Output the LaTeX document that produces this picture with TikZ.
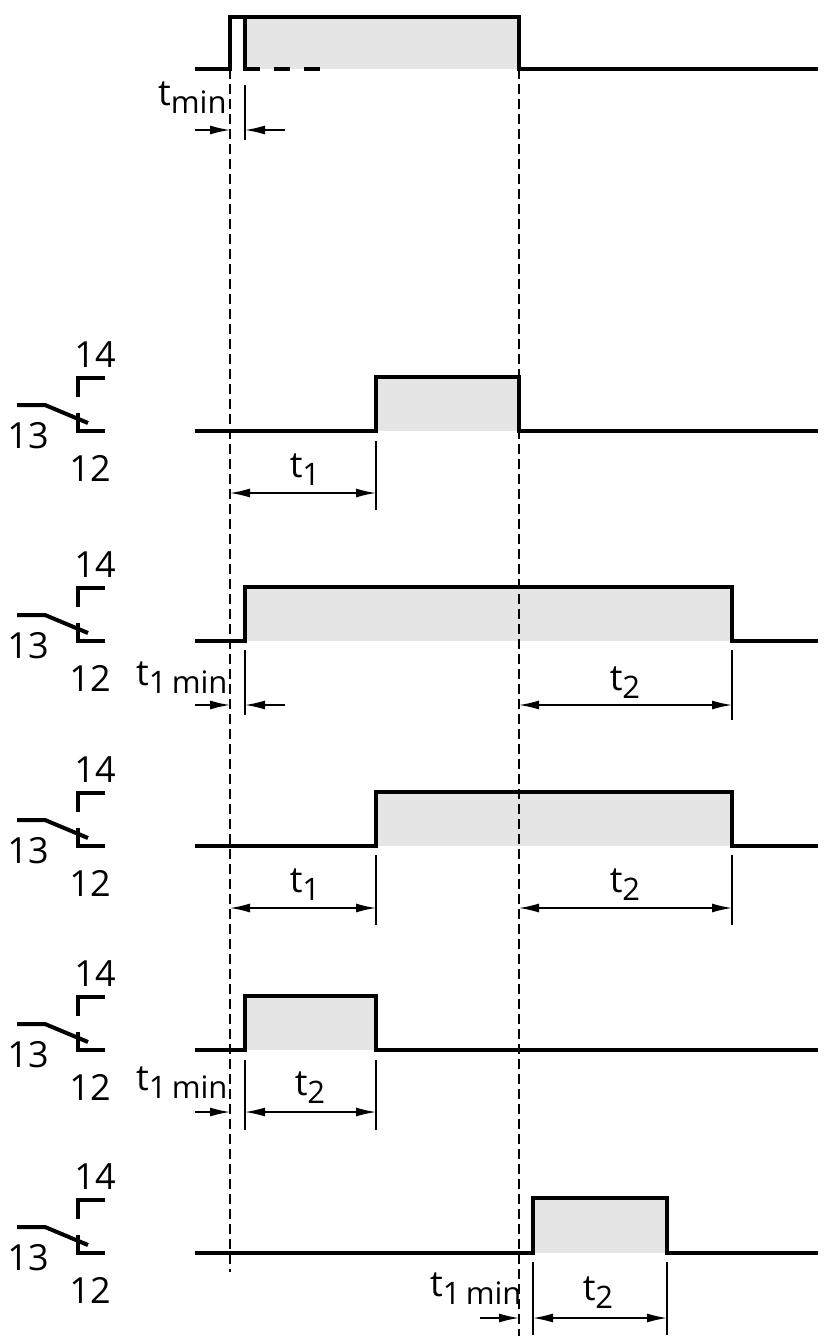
\documentclass[tikz,border=0pt]{standalone}
\usepackage{fontspec}
\setmainfont{Open Sans}
\usetikzlibrary{arrows.meta}
\tikzset{sig/.style={line width=4.5pt,line join=miter},
 fillg/.style={fill=black!10},
 vdash/.style={line width=1.3pt,dash pattern=on 10pt off 5pt},
 tick/.style={line width=1.5pt},
 dim/.style={line width=1.5pt,{Latex[length=20pt,width=9pt]}-{Latex[length=20pt,width=9pt]}},
 one/.style={line width=1.5pt,-{Latex[length=20pt,width=9pt]}},
 lbl/.style={font=\fontsize{36}{36}\selectfont,inner sep=0pt}}
\newcommand{\tsub}[1]{t\raisebox{-8pt}{\fontsize{31}{31}\selectfont #1}}
\newcommand{\contact}[2]{%
 \node[lbl] (c14#2) at (95,#1-76) {14};
 \draw[sig,line width=4pt] (78,#1-34) -- (78,#1-53) -- (105,#1-53);
 \draw[sig,line width=4pt] (78,#1-18) -- (78,#1) -- (105,#1);
 \draw[line width=4pt] (17,#1-26) -- (45,#1-26) -- (88,#1-8);
 \node[lbl] (c13#2) at (28,#1+5) {13};
 \node[lbl] (c12#2) at (90,#1+37) {12};}
\begin{document}
\begin{tikzpicture}[x=1pt,y=-1pt]
\useasboundingbox (0,0) rectangle (826,1339);
\fill[fillg] (245,17) rectangle (519,69);
\fill[fillg] (376,377) rectangle (519,431);
\fill[fillg] (245,587) rectangle (732,641);
\fill[fillg] (376,792) rectangle (732,846);
\fill[fillg] (245,996) rectangle (376,1050);
\fill[fillg] (533,1198) rectangle (667,1253);
\coordinate (d1a) at (230,69); \coordinate (d1b) at (230,1272);
\coordinate (d2a) at (519,69); \coordinate (d2b) at (519,1336);
\draw[vdash] (d1a) -- (d1b);
\draw[vdash] (d2a) -- (d2b);
% row 1
\draw[sig] (195,69) -- (230,69) -- (230,17) -- (519,17) -- (519,69) -- (818,69);
\draw[sig] (245,17) -- (245,69) -- (260,69);
\draw[sig,dash pattern=on 16pt off 14pt] (274,69) -- (320,69);
\node[lbl,anchor=south west] (tm) at (158,114) {\tsub{min}};
\draw[tick] (245,85) -- (245,140);
\draw[one] (195,130) -- (230,130);
\draw[one] (285,130) -- (245,130);
% row 2
\contact{431}{b}
\draw[sig] (195,431) -- (376,431) -- (376,377) -- (519,377) -- (519,431) -- (818,431);
\node[lbl] (t1b) at (305,470) {\tsub{1}};
\draw[tick] (376,441) -- (376,510);
\draw[dim] (230,493) -- (376,493);
% row 3
\contact{641}{c}
\draw[sig] (195,641) -- (245,641) -- (245,587) -- (732,587) -- (732,641) -- (818,641);
\node[lbl,anchor=south west] (t1mc) at (136,694) {\tsub{1\,min}};
\draw[tick] (245,650) -- (245,715);
\draw[one] (195,705) -- (230,705);
\draw[one] (285,705) -- (245,705);
\node[lbl] (t2c) at (625,683) {\tsub{2}};
\draw[tick] (732,650) -- (732,720);
\draw[dim] (519,705) -- (732,705);
% row 4
\contact{846}{d}
\draw[sig] (195,846) -- (376,846) -- (376,792) -- (732,792) -- (732,846) -- (818,846);
\node[lbl] (t1d) at (305,885) {\tsub{1}};
\draw[tick] (376,855) -- (376,925);
\draw[dim] (230,908) -- (376,908);
\node[lbl] (t2d) at (625,885) {\tsub{2}};
\draw[tick] (732,855) -- (732,925);
\draw[dim] (519,908) -- (732,908);
% row 5
\contact{1050}{e}
\draw[sig] (195,1050) -- (245,1050) -- (245,996) -- (376,996) -- (376,1050) -- (818,1050);
\node[lbl,anchor=south west] (t1me) at (136,1099) {\tsub{1\,min}};
\draw[one] (195,1112) -- (230,1112);
\draw[tick] (245,1060) -- (245,1130);
\draw[tick] (376,1060) -- (376,1130);
\node[lbl] (t2e) at (310,1088) {\tsub{2}};
\draw[dim] (245,1112) -- (376,1112);
% row 6
\contact{1253}{f}
\draw[sig] (195,1253) -- (533,1253) -- (533,1198) -- (667,1198) -- (667,1253) -- (818,1253);
\node[lbl,anchor=south west] (t1mf) at (430,1305) {\tsub{1\,min}};
\draw[one] (480,1318) -- (519,1318);
\draw[tick] (533,1262) -- (533,1335);
\draw[tick] (667,1262) -- (667,1335);
\node[lbl] (t2f) at (598,1293) {\tsub{2}};
\draw[dim] (533,1318) -- (667,1318);
\end{tikzpicture}
\end{document}
